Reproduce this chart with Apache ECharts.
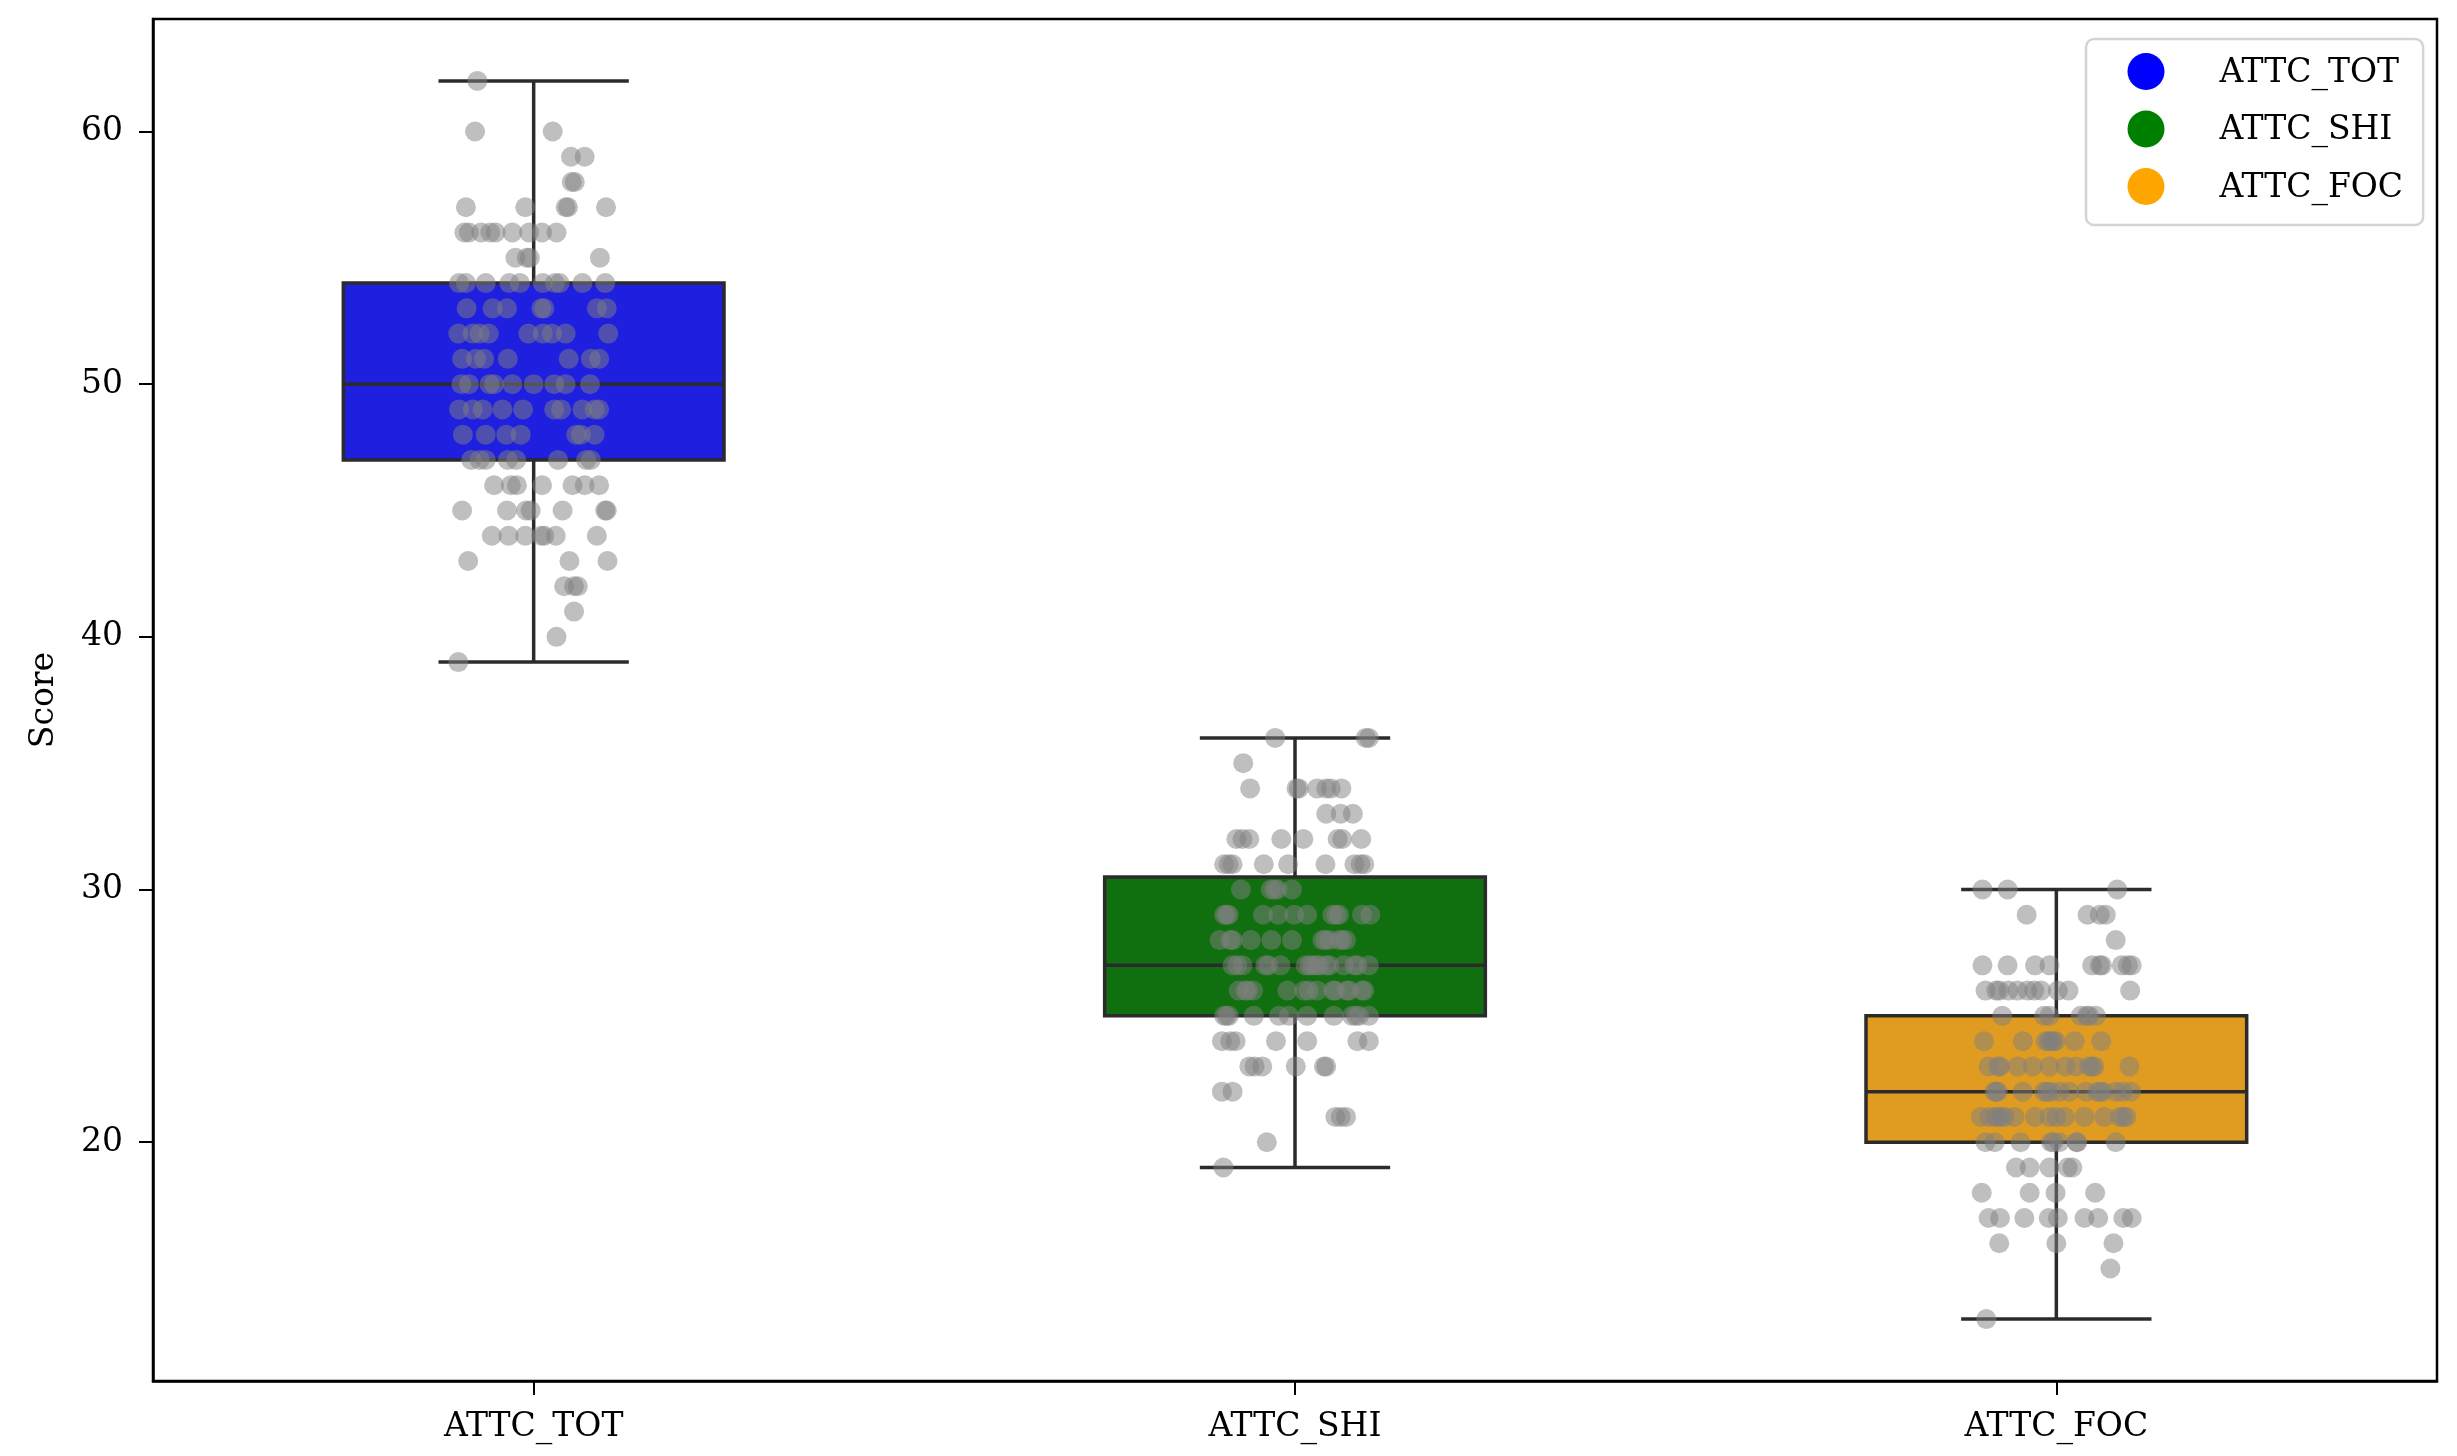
<!DOCTYPE html>
<html>
<head>
<meta charset="utf-8">
<title>ATTC scores</title>
<script src="https://cdn.jsdelivr.net/npm/echarts@6/dist/echarts.min.js"></script>
<style>
  body { margin: 0; background: #fff; }
  #chart { width: 2457px; height: 1456px; }
</style>
</head>
<body>
<div id="chart"></div>
<script>
    // categories and colours
    const categories = ['ATTC_TOT', 'ATTC_SHI', 'ATTC_FOC'];
    const legendColors = ['#0000ff', '#008000', '#ffa500'];
    const boxFill = ['#1f1fdf', '#107010', '#df9c20'];
    const yTicks = [20, 30, 40, 50, 60];

    // box stats
    const boxLow = [39, 19, 13];
    const boxQ1 = [47, 25, 20];
    const boxMedian = [50, 27, 22];
    const boxQ3 = [54, 30.5, 25];
    const boxHigh = [62, 36, 30];

    // strip points: [score, [jitter offsets in category units]]
    const totRows = [
        [62, [-0.074]],
        [60, [-0.077, 0.025]],
        [59, [0.049, 0.067]],
        [58, [0.050, 0.054]],
        [57, [-0.089, -0.011, 0.042, 0.045, 0.095]],
        [56, [-0.091, -0.085, -0.069, -0.057, -0.050, -0.028, -0.006, 0.011, 0.030]],
        [55, [-0.024, -0.009, -0.005, 0.087]],
        [54, [-0.098, -0.089, -0.063, -0.032, -0.018, 0.012, 0.028, 0.034, 0.064, 0.094]],
        [53, [-0.088, -0.054, -0.035, 0.010, 0.014, 0.083, 0.096]],
        [52, [-0.099, -0.080, -0.071, -0.059, -0.007, 0.012, 0.024, 0.042, 0.098]],
        [51, [-0.094, -0.076, -0.065, -0.034, 0.046, 0.075, 0.086]],
        [50, [-0.095, -0.085, -0.058, -0.052, -0.028, 0.000, 0.027, 0.042, 0.074]],
        [49, [-0.098, -0.080, -0.067, -0.041, -0.014, 0.027, 0.036, 0.064, 0.080, 0.086]],
        [48, [-0.093, -0.063, -0.036, -0.017, 0.056, 0.062, 0.080]],
        [47, [-0.082, -0.071, -0.063, -0.034, -0.023, 0.032, 0.069, 0.075]],
        [46, [-0.052, -0.030, -0.022, 0.011, 0.051, 0.067, 0.086]],
        [45, [-0.094, -0.035, -0.010, -0.004, 0.038, 0.094, 0.096]],
        [44, [-0.055, -0.033, -0.011, 0.010, 0.014, 0.029, 0.083]],
        [43, [-0.086, 0.047, 0.097]],
        [42, [0.040, 0.053, 0.058]],
        [41, [0.053]],
        [40, [0.030]],
        [39, [-0.099]]
    ];
    const shiRows = [
        [36, [-0.026, 0.093, 0.097]],
        [35, [-0.068]],
        [34, [-0.059, 0.002, 0.005, 0.029, 0.041, 0.047, 0.061]],
        [33, [0.041, 0.060, 0.076]],
        [32, [-0.077, -0.069, -0.060, -0.018, 0.011, 0.056, 0.062, 0.087]],
        [31, [-0.093, -0.087, -0.082, -0.041, -0.009, 0.040, 0.078, 0.086, 0.091]],
        [30, [-0.071, -0.032, -0.027, -0.023, -0.004]],
        [29, [-0.093, -0.090, -0.087, -0.042, -0.022, -0.001, 0.016, 0.049, 0.054, 0.058, 0.088, 0.099]],
        [28, [-0.099, -0.085, -0.082, -0.058, -0.031, -0.004, 0.036, 0.040, 0.045, 0.058, 0.062, 0.067]],
        [27, [-0.082, -0.076, -0.069, -0.039, -0.035, -0.019, 0.014, 0.019, 0.023, 0.028, 0.032, 0.041, 0.045, 0.064, 0.078, 0.082, 0.097]],
        [26, [-0.074, -0.065, -0.062, -0.055, -0.010, 0.012, 0.018, 0.029, 0.050, 0.053, 0.068, 0.071, 0.088, 0.091]],
        [25, [-0.093, -0.090, -0.087, -0.054, -0.021, -0.008, 0.016, 0.051, 0.075, 0.080, 0.084, 0.097]],
        [24, [-0.096, -0.085, -0.078, -0.025, 0.016, 0.082, 0.097]],
        [23, [-0.060, -0.053, -0.043, 0.001, 0.038, 0.041]],
        [22, [-0.096, -0.082]],
        [21, [0.053, 0.060, 0.067]],
        [20, [-0.037]],
        [19, [-0.094]]
    ];
    const focRows = [
        [30, [-0.097, -0.064, 0.080]],
        [29, [-0.039, 0.041, 0.057, 0.065]],
        [28, [0.078]],
        [27, [-0.097, -0.064, -0.028, -0.009, 0.047, 0.057, 0.060, 0.086, 0.094, 0.099]],
        [26, [-0.093, -0.079, -0.075, -0.063, -0.051, -0.038, -0.029, -0.020, 0.002, 0.016, 0.097]],
        [25, [-0.071, -0.016, -0.009, 0.032, 0.040, 0.043, 0.052]],
        [24, [-0.095, -0.044, -0.014, -0.010, -0.007, -0.004, -0.001, 0.024, 0.059]],
        [23, [-0.089, -0.076, -0.074, -0.051, -0.031, -0.009, 0.012, 0.026, 0.043, 0.047, 0.050, 0.096]],
        [22, [-0.081, -0.079, -0.077, -0.044, -0.016, -0.012, -0.007, 0.004, 0.017, 0.039, 0.054, 0.058, 0.061, 0.078, 0.087, 0.098]],
        [21, [-0.099, -0.088, -0.080, -0.077, -0.072, -0.068, -0.055, -0.028, -0.009, 0.000, 0.011, 0.037, 0.063, 0.083, 0.088, 0.092]],
        [20, [-0.093, -0.081, -0.047, -0.007, -0.004, 0.004, 0.027, 0.027, 0.078]],
        [19, [-0.053, -0.035, -0.009, 0.015, 0.021]],
        [18, [-0.098, -0.035, -0.001, 0.051]],
        [17, [-0.089, -0.074, -0.042, -0.010, 0.002, 0.037, 0.055, 0.088, 0.099]],
        [16, [-0.075, 0.000, 0.075]],
        [15, [0.071]],
        [13, [-0.092]]
    ];

    const font = 'DejaVu Serif';
    const lineColor = '#2b2b2b';

    let boxData = categories.map(function (c, i) {
        return [i, boxLow[i], boxQ1[i], boxMedian[i], boxQ3[i], boxHigh[i]];
    });

    let points = [];
    [totRows, shiRows, focRows].forEach(function (rows, i) {
        rows.forEach(function (row) {
            row[1].forEach(function (j) {
                points.push([i + j, row[0]]);
            });
        });
    });

    function renderBox(params, api) {
        let x = api.value(0);
        let lo = api.value(1), q1 = api.value(2), med = api.value(3), q3 = api.value(4), hi = api.value(5);
        let boxHalf = 0.25, capHalf = 0.125;
        let tl = api.coord([x - boxHalf, q3]);
        let br = api.coord([x + boxHalf, q1]);
        let lineStyle = { stroke: lineColor, lineWidth: 3.5 };
        function seg(x1, y1, x2, y2) {
            let a = api.coord([x1, y1]), b = api.coord([x2, y2]);
            return { type: 'line', shape: { x1: a[0], y1: a[1], x2: b[0], y2: b[1] }, style: lineStyle };
        }
        return {
            type: 'group',
            children: [
                seg(x, q3, x, hi),
                seg(x, q1, x, lo),
                seg(x - capHalf, hi, x + capHalf, hi),
                seg(x - capHalf, lo, x + capHalf, lo),
                {
                    type: 'rect',
                    shape: { x: tl[0], y: tl[1], width: br[0] - tl[0], height: br[1] - tl[1] },
                    style: { fill: boxFill[params.dataIndex], stroke: lineColor, lineWidth: 3.5 }
                },
                seg(x - boxHalf, med, x + boxHalf, med)
            ]
        };
    }

    let chart = echarts.init(document.getElementById('chart'));
    let option = {
        animation: false,
        backgroundColor: '#fff',
        grid: {
            left: 153,
            right: 20,
            top: 19,
            bottom: 75,
            show: true,
            borderColor: '#000',
            borderWidth: 2.5,
            outerBoundsMode: 'none'
        },
        legend: {
            orient: 'vertical',
            left: 2086,
            top: 39,
            data: categories,
            icon: 'circle',
            itemWidth: 37,
            itemHeight: 37,
            itemGap: 20.5,
            selectedMode: false,
            padding: [14, 20, 20, 41.5],
            backgroundColor: '#fff',
            borderColor: '#d4d4d4',
            borderWidth: 2.5,
            borderRadius: 8,
            formatter: function (name) { return '{t|' + name + '}'; },
            textStyle: {
                rich: {
                    t: { fontFamily: font, fontSize: 33, color: '#000', padding: [3, 0, 0, 50], lineHeight: 37 }
                }
            }
        },
        xAxis: {
            type: 'value',
            min: -0.5,
            max: 2.5,
            axisLine: { show: true, onZero: false, lineStyle: { color: '#000', width: 2.5 } },
            axisTick: { show: true, length: 14, lineStyle: { color: '#000', width: 2 }, customValues: [0, 1, 2] },
            axisLabel: {
                customValues: [0, 1, 2],
                margin: 30,
                fontFamily: font,
                fontSize: 33,
                color: '#000',
                formatter: function (v) { return categories[Math.round(v)]; }
            },
            splitLine: { show: false }
        },
        yAxis: {
            type: 'value',
            min: 10.55,
            max: 64.45,
            name: 'Score',
            nameLocation: 'middle',
            nameRotate: 90,
            nameGap: 92,
            nameTextStyle: { fontFamily: font, fontSize: 33, color: '#000' },
            axisLine: { show: true, onZero: false, lineStyle: { color: '#000', width: 2.5 } },
            axisTick: { show: true, length: 14, lineStyle: { color: '#000', width: 2 }, customValues: yTicks },
            axisLabel: { customValues: yTicks, margin: 30, fontFamily: font, fontSize: 33, color: '#000' },
            splitLine: { show: false }
        },
        series: [
            {
                name: 'boxes',
                type: 'custom',
                renderItem: renderBox,
                data: boxData,
                encode: { x: 0, y: [1, 2, 3, 4, 5] },
                z: 2
            },
            {
                name: 'points',
                type: 'scatter',
                data: points,
                symbolSize: 20,
                itemStyle: { color: 'rgba(128,128,128,0.5)', opacity: 1 },
                z: 3
            }
        ].concat(categories.map(function (c, i) {
            return { name: c, type: 'scatter', data: [], itemStyle: { color: legendColors[i], opacity: 1 } };
        }))
    };
    chart.setOption(option);
    window.addEventListener('resize', function () {
        chart.resize();
    });
</script>
</body>
</html>
